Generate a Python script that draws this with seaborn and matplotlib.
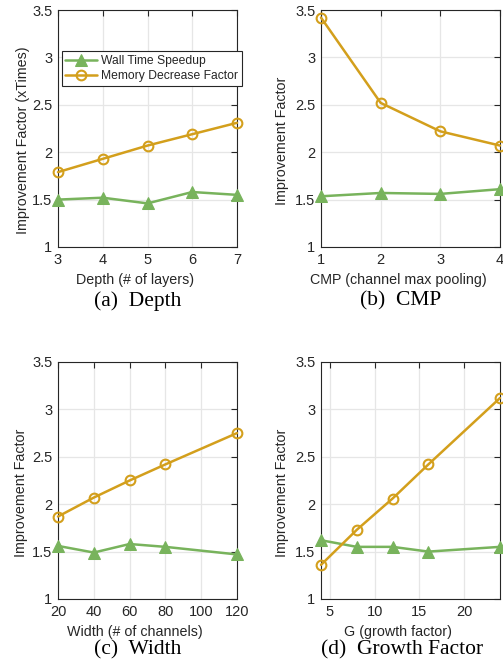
import numpy as np
import pandas as pd
import matplotlib
matplotlib.use("Agg")
import matplotlib.pyplot as plt
import seaborn as sns

# (a) depth
depth = [3, 4, 5, 6, 7]
depth_speed = [1.50, 1.52, 1.46, 1.58, 1.55]
depth_mem = [1.79, 1.93, 2.07, 2.19, 2.31]

# (b) channel max pooling
cmp_x = [1, 2, 3, 4]
cmp_speed = [1.535, 1.57, 1.56, 1.61]
cmp_mem = [3.42, 2.52, 2.22, 2.07]

# (c) width
width = [20, 40, 60, 80, 120]
width_speed = [1.56, 1.49, 1.58, 1.55, 1.47]
width_mem = [1.87, 2.07, 2.25, 2.42, 2.75]

# (d) growth factor
growth = [4, 8, 12, 16, 24]
growth_speed = [1.62, 1.55, 1.55, 1.50, 1.55]
growth_mem = [1.36, 1.73, 2.06, 2.42, 3.12]

sns.set_style("white")
plt.rcParams['font.family'] = ['Liberation Sans', 'DejaVu Sans']

GREEN = '#78B35C'
GOLD = '#D39F1C'
DARK = '#262626'

fig = plt.figure(figsize=(5.03, 6.62), dpi=100)

panels = [
    dict(x=depth, s=depth_speed, m=depth_mem, xlim=(3, 7), xticks=[3, 4, 5, 6, 7],
         xlabel='Depth (# of layers)', ylabel='Improvement Factor (xTimes)',
         cap='(a)  Depth', pos=[58, 247], capx=138, capy=301, ylx=-0.155),
    dict(x=cmp_x, s=cmp_speed, m=cmp_mem, xlim=(1, 4), xticks=[1, 2, 3, 4],
         xlabel='CMP (channel max pooling)', ylabel='Improvement Factor',
         cap='(b)  CMP', pos=[321, 247], capx=401, capy=301, ylx=-0.18),
    dict(x=width, s=width_speed, m=width_mem, xlim=(20, 120), xticks=[20, 40, 60, 80, 100, 120],
         xlabel='Width (# of channels)', ylabel='Improvement Factor',
         cap='(c)  Width', pos=[58, 599], capx=138, capy=650, ylx=-0.17),
    dict(x=growth, s=growth_speed, m=growth_mem, xlim=(4, 24), xticks=[5, 10, 15, 20],
         xlabel='G (growth factor)', ylabel='Improvement Factor',
         cap='(d)  Growth Factor', pos=[321, 599], capx=402, capy=650, ylx=-0.18),
]

W, H = 503, 662
for i, p in enumerate(panels):
    left, bottom = p['pos']
    ax = fig.add_axes([left / W, 1 - bottom / H, 179 / W, 237 / H])
    sns.lineplot(x=p['x'], y=p['s'], ax=ax, color=GREEN, lw=1.8, marker='^',
                 markersize=8, markerfacecolor=GREEN, markeredgecolor=GREEN,
                 label='Wall Time Speedup', clip_on=False, zorder=3)
    sns.lineplot(x=p['x'], y=p['m'], ax=ax, color=GOLD, lw=1.8, marker='o',
                 markersize=7, markerfacecolor='none', markeredgecolor=GOLD,
                 markeredgewidth=1.5, label='Memory Decrease Factor',
                 clip_on=False, zorder=3)
    ax.set_xlim(*p['xlim'])
    ax.set_ylim(1, 3.5)
    ax.set_xticks(p['xticks'])
    ax.set_yticks([1, 1.5, 2, 2.5, 3, 3.5])
    ax.set_yticklabels(['1', '1.5', '2', '2.5', '3', '3.5'])
    ax.grid(True, color='#E6E6E6', lw=0.9)
    ax.set_axisbelow(True)
    ax.tick_params(direction='in', length=4, width=0.8, top=True, right=True,
                   labelsize=10.5, colors=DARK, pad=4)
    for sp in ax.spines.values():
        sp.set_color(DARK)
        sp.set_linewidth(0.8)
    ax.set_xlabel(p['xlabel'], fontsize=10.3, color=DARK)
    ax.set_ylabel(p['ylabel'], fontsize=10.3, color=DARK)
    ax.xaxis.set_label_coords(0.43, -0.11)
    ax.yaxis.set_label_coords(p['ylx'], 0.45)
    if i == 0:
        leg = ax.legend(loc='upper left', bbox_to_anchor=(0.02, 0.825), fontsize=8.7,
                        frameon=True, fancybox=False, framealpha=1, borderpad=0.3,
                        handlelength=2.6, handletextpad=0.4, labelspacing=0.25,
                        borderaxespad=0)
        leg.get_frame().set_edgecolor(DARK)
        leg.get_frame().set_linewidth(0.8)
        leg.set_zorder(5)
    else:
        ax.get_legend().remove()
    fig.text(p['capx'] / W, 1 - p['capy'] / H, p['cap'], ha='center', va='center',
             fontsize=15.5, family='Liberation Serif', color='black')

fig.savefig('out.png', dpi=100)
